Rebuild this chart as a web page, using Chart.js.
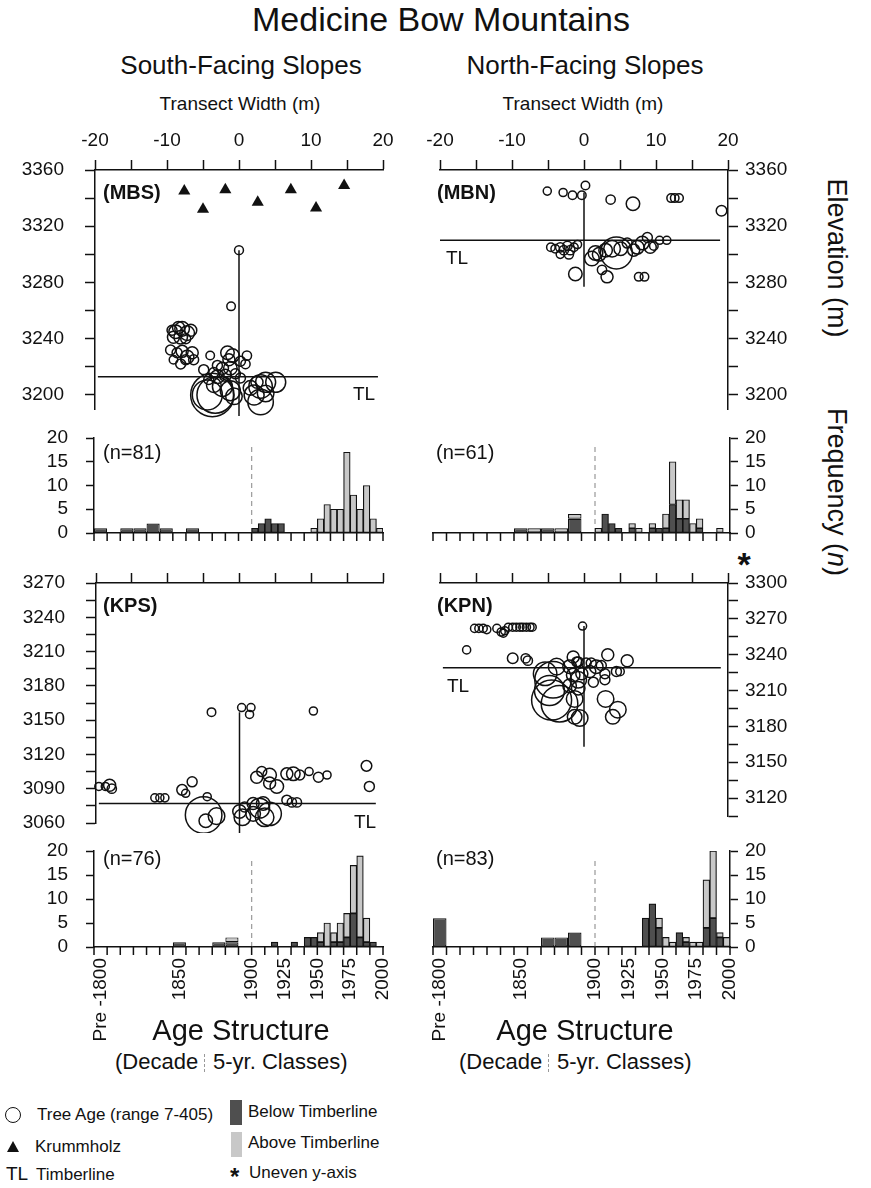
<!DOCTYPE html>
<html>
<head>
<meta charset="utf-8">
<script src="https://cdn.jsdelivr.net/npm/chart.js@4.4.1/dist/chart.umd.min.js"></script>
<style>
  body { margin: 0; background: #fff; }
  #page { position: relative; width: 871px; height: 1188px; overflow: hidden;
          font-family: "Liberation Sans", Arial, sans-serif; color: #111; }
  canvas { position: absolute; }
  .c { position: absolute; white-space: nowrap; transform: translate(-50%, -50%); }
  .l { position: absolute; white-space: nowrap; transform: translateY(-50%); }
  .tag { font-weight: bold; font-size: 20px; }
  .tl { font-size: 19px; }
  .n { font-size: 20px; }
  .leg { font-size: 17px; }
</style>
</head>
<body>
<div id="page">
  <div class="c" style="left:441px;top:19px;font-size:34px">Medicine Bow Mountains</div>
  <div class="c" style="left:241px;top:65px;font-size:26px">South-Facing Slopes</div>
  <div class="c" style="left:585px;top:65px;font-size:26px">North-Facing Slopes</div>
  <div class="c" style="left:240px;top:104px;font-size:19px">Transect Width (m)</div>
  <div class="c" style="left:583px;top:104px;font-size:19px">Transect Width (m)</div>
  <div class="c" style="left:836px;top:258px;font-size:27px;transform:translate(-50%,-50%) rotate(90deg)">Elevation (m)</div>
  <div class="c" style="left:836px;top:492px;font-size:27px;transform:translate(-50%,-50%) rotate(90deg)">Frequency (<i>n</i>)</div>
  <div class="c" style="left:744px;top:564px;font-size:34px;font-weight:bold">*</div>

  <canvas id="mbs"></canvas>
  <canvas id="mbn"></canvas>
  <canvas id="kps"></canvas>
  <canvas id="kpn"></canvas>
  <canvas id="mbsAge"></canvas>
  <canvas id="mbnAge"></canvas>
  <canvas id="kpsAge"></canvas>
  <canvas id="kpnAge"></canvas>

  <div class="l tag" style="left:103px;top:192px">(MBS)</div>
  <div class="l tag" style="left:437px;top:192px">(MBN)</div>
  <div class="l tag" style="left:103px;top:605px">(KPS)</div>
  <div class="l tag" style="left:437px;top:605px">(KPN)</div>
  <div class="c tl" style="left:364px;top:394px">TL</div>
  <div class="c tl" style="left:457px;top:258px">TL</div>
  <div class="c tl" style="left:365px;top:822px">TL</div>
  <div class="c tl" style="left:458px;top:686px">TL</div>
  <div class="l n" style="left:103px;top:452px">(n=81)</div>
  <div class="l n" style="left:436px;top:452px">(n=61)</div>
  <div class="l n" style="left:103px;top:858px">(n=76)</div>
  <div class="l n" style="left:436px;top:858px">(n=83)</div>

  <div class="c" style="left:241px;top:1030px;font-size:29px">Age Structure</div>
  <div class="c" style="left:585px;top:1030px;font-size:29px">Age Structure</div>
  <div class="l" style="left:115px;top:1062px;font-size:22px">(Decade</div>
  <div style="position:absolute;left:204px;top:1054px;height:18px;border-left:1px dashed #999"></div>
  <div class="l" style="left:213px;top:1062px;font-size:22px">5-yr. Classes)</div>
  <div class="l" style="left:459px;top:1062px;font-size:22px">(Decade</div>
  <div style="position:absolute;left:548px;top:1054px;height:18px;border-left:1px dashed #999"></div>
  <div class="l" style="left:557px;top:1062px;font-size:22px">5-yr. Classes)</div>

  <div style="position:absolute;left:5px;top:1107px;width:14px;height:14px;border:1.6px solid #111;border-radius:50%"></div>
  <div class="l leg" style="left:37px;top:1115px">Tree Age (range 7-405)</div>
  <div style="position:absolute;left:7px;top:1141px;width:0;height:0;border-left:6px solid transparent;border-right:6px solid transparent;border-bottom:11px solid #111"></div>
  <div class="l leg" style="left:35px;top:1147px">Krummholz</div>
  <div class="l" style="left:6px;top:1174px;font-size:19px">TL</div>
  <div class="l leg" style="left:36px;top:1175px">Timberline</div>
  <div style="position:absolute;left:230px;top:1100px;width:12px;height:25px;background:#4f4f4f"></div>
  <div class="l leg" style="left:248px;top:1112px">Below Timberline</div>
  <div style="position:absolute;left:231px;top:1132px;width:11px;height:25px;background:#c8c8c8"></div>
  <div class="l leg" style="left:248px;top:1143px">Above Timberline</div>
  <div class="l" style="left:230px;top:1177px;font-size:24px;font-weight:bold">*</div>
  <div class="l leg" style="left:249px;top:1173px">Uneven y-axis</div>
</div>

<script>
// ---- transect axes ----
const widthTicks = [-20, -15, -10, -5, 0, 5, 10, 15, 20];
const widthLabels = [-20, -10, 0, 10, 20];
const mbElevTicks = [3200, 3220, 3240, 3260, 3280, 3300, 3320, 3340, 3360];
const mbElevLabels = [3200, 3240, 3280, 3320, 3360];
const kpsElevTicks = [3060, 3075, 3090, 3105, 3120, 3135, 3150, 3165, 3180, 3195, 3210, 3225, 3240, 3255, 3270];
const kpsElevLabels = [3060, 3090, 3120, 3150, 3180, 3210, 3240, 3270];
const kpnElevTicks = [3105, 3120, 3135, 3150, 3165, 3180, 3195, 3210, 3225, 3240, 3255, 3270, 3285, 3300];
const kpnElevLabels = [3120, 3150, 3180, 3210, 3240, 3270, 3300];

// ---- trees: [transect position (m), elevation (m), age (yr)] ----
const mbsTrees = [
  [-8.8, 3245, 25], [-7.9, 3247, 30], [-7.2, 3244, 30], [-9.1, 3241, 19], [-8.1, 3241, 25],
  [-6.7, 3246, 19], [-8.4, 3248, 19], [-9.3, 3246, 12], [-7.4, 3240, 12],
  [-9.5, 3232, 12], [-8.6, 3230, 12], [-7.9, 3231, 19], [-7.2, 3227, 25], [-6.5, 3230, 19],
  [-8.1, 3222, 12], [-9.1, 3225, 8], [-7.4, 3225, 12], [-6.3, 3225, 12], [-4.9, 3218, 12],
  [-4.0, 3228, 8], [-1.6, 3230, 25], [-0.9, 3228, 25], [-1.4, 3225, 19], [1.1, 3228, 10],
  [0.2, 3224, 12], [0.9, 3222, 10], [-3.0, 3221, 12], [-2.3, 3219, 19], [-3.5, 3216, 12],
  [-1.2, 3219, 25], [-1.9, 3214, 19], [-0.5, 3215, 12], [-3.0, 3213, 25], [0.2, 3212, 12],
  [-4.2, 3211, 12],
  [-4.4, 3200, 148], [-3.3, 3200, 226], [-3.7, 3200, 324], [-1.2, 3203, 61], [-2.3, 3206, 61],
  [-0.7, 3199, 40], [-3.5, 3207, 30],
  [3.0, 3206, 87], [3.7, 3209, 61], [5.1, 3209, 61], [2.1, 3200, 61], [3.0, 3195, 104],
  [1.6, 3205, 30], [3.7, 3201, 40], [2.5, 3209, 19],
  [0, 3303, 9], [-1.1, 3263, 8]
];
const mbsKrummholz = [[-7.6, 3345], [-5.0, 3332], [-1.9, 3346], [2.6, 3337], [7.2, 3346], [10.7, 3333], [14.6, 3349]];
const mbnTrees = [
  [-5.1, 3345, 7], [-2.9, 3344, 7], [-1.6, 3342, 8], [-0.3, 3342, 8], [0.2, 3349, 8],
  [3.7, 3339, 10], [6.8, 3336, 25], [12.1, 3340, 8], [12.6, 3340, 8], [13.2, 3340, 8], [19.1, 3331, 14],
  [-4.6, 3305, 8], [-4.0, 3304, 8], [-3.3, 3305, 10], [-2.8, 3303, 10], [-2.3, 3306, 10],
  [-1.9, 3303, 10], [-1.4, 3305, 8], [-2.1, 3300, 10], [-3.3, 3300, 7], [-0.9, 3307, 7],
  [1.6, 3301, 30], [1.1, 3297, 30], [2.1, 3300, 25], [4.5, 3301, 170], [3.9, 3304, 40],
  [5.1, 3304, 25], [3.0, 3303, 25], [-1.2, 3286, 25], [2.5, 3289, 10], [3.2, 3284, 19],
  [7.6, 3284, 8], [8.4, 3284, 8], [7.4, 3305, 25], [8.1, 3308, 25], [9.2, 3305, 19],
  [8.8, 3312, 12], [9.7, 3306, 8], [10.5, 3310, 7], [11.5, 3310, 7], [6.9, 3303, 19], [6.0, 3308, 12]
];
const kpsTrees = [
  [-3.9, 3157, 8], [0.3, 3161, 7], [1.6, 3161, 7], [1.4, 3155, 7], [10.3, 3158, 7],
  [17.7, 3110, 14], [18.1, 3092, 12],
  [-19.6, 3092, 7], [-18.7, 3092, 7], [-18.1, 3093, 19], [-17.8, 3090, 10],
  [-11.8, 3082, 7], [-11.1, 3082, 7], [-10.4, 3082, 7], [-8.0, 3089, 14], [-7.5, 3086, 7],
  [-6.6, 3096, 12], [-4.5, 3083, 7],
  [-5.0, 3067, 226], [-4.7, 3062, 25], [-3.2, 3066, 40],
  [0, 3070, 25], [0.4, 3065, 40], [0.7, 3074, 12], [2.8, 3073, 61], [4.2, 3068, 87],
  [3.3, 3077, 25], [1.9, 3077, 19], [1.9, 3068, 30], [3.5, 3065, 52],
  [2.4, 3100, 19], [3.1, 3105, 12], [4.2, 3102, 25], [4.2, 3095, 19], [5.2, 3092, 25],
  [6.6, 3103, 19], [7.5, 3103, 25], [8.4, 3102, 12], [9.7, 3105, 7], [11.0, 3100, 12],
  [12.2, 3102, 7], [6.6, 3080, 12], [7.3, 3078, 10], [8.0, 3078, 10]
];
const kpnTrees = [
  [-0.2, 3264, 7],
  [-15.2, 3262, 7], [-14.6, 3262, 7], [-14.0, 3262, 7], [-13.5, 3261, 7], [-12.1, 3262, 7],
  [-11.5, 3259, 7], [-11.0, 3260, 7], [-11.2, 3258, 7], [-10.5, 3263, 7], [-9.9, 3263, 7],
  [-9.4, 3263, 7], [-8.9, 3263, 7], [-8.5, 3263, 7], [-8.0, 3263, 7], [-7.5, 3263, 7], [-7.2, 3263, 7],
  [-16.3, 3244, 7], [-9.9, 3237, 14], [-8.1, 3237, 10], [-7.8, 3235, 10],
  [-4.3, 3219, 226], [-4.5, 3202, 273], [-3.4, 3199, 226], [-4.8, 3210, 148], [-5.4, 3224, 87],
  [-3.8, 3230, 40], [-1.5, 3238, 19], [-1.0, 3234, 12], [-0.8, 3234, 12], [-2.0, 3230, 25],
  [-1.5, 3223, 25], [-0.8, 3219, 40], [-0.3, 3224, 19], [-2.0, 3214, 25], [-0.8, 3212, 25],
  [-1.3, 3203, 40], [-0.6, 3187, 40], [-1.3, 3188, 30],
  [1.0, 3233, 12], [1.7, 3230, 25], [2.4, 3231, 12], [3.3, 3240, 19], [2.9, 3224, 12],
  [1.3, 3217, 12], [2.9, 3219, 12], [4.5, 3226, 12], [5.0, 3226, 8], [6.0, 3235, 19],
  [3.0, 3203, 40], [4.7, 3194, 40], [4.0, 3188, 30], [0.8, 3226, 19], [0.3, 3233, 12]
];

// ---- timberline and centre stem (m) ----
const mbsTimberline = 3213, mbsTlSpan = [-19.6, 19.3], mbsStem = [3303, 3185];
const mbnTimberline = 3310, mbnTlSpan = [-20, 18.9], mbnStem = [3344, 3277];
const kpsTimberline = 3077, kpsTlSpan = [-19.6, 19.0], kpsStem = [3157, 3047];
const kpnTimberline = 3229, kpnTlSpan = [-19.6, 19.0], kpnStem = [3264, 3163];

// ---- age structure: Pre-1800 + decades to 1890, then 5-yr classes 1900-1995 ----
const ageClasses = ['Pre-1800', '1800', '1810', '1820', '1830', '1840', '1850', '1860', '1870', '1880', '1890',
  '1900', '1905', '1910', '1915', '1920', '1925', '1930', '1935', '1940', '1945',
  '1950', '1955', '1960', '1965', '1970', '1975', '1980', '1985', '1990', '1995'];
const ageTickLabels = ['Pre -1800', '1850', '1900', '1925', '1950', '1975', '2000'];
const freqTicks = [0, 5, 10, 15, 20];

const mbsBelow = [1, 0, 1, 1, 2, 1, 0, 1, 0, 0, 0,
  1, 2, 3, 2, 2, 0, 0, 0, 0, 0, 0, 0, 0, 0, 0, 0, 0, 0, 0, 0];
const mbsAbove = [0, 0, 0, 0, 0, 0, 0, 0, 0, 0, 0,
  0, 0, 0, 0, 0, 0, 0, 0, 0, 1, 3, 6, 5, 5, 17, 8, 5, 10, 3, 1];
const mbnBelow = [0, 0, 0, 0, 0, 0, 1, 0, 1, 0, 3,
  0, 4, 2, 1, 0, 1, 0, 0, 1, 1, 1, 6, 3, 3, 0, 1, 0, 0, 0, 0];
const mbnAbove = [0, 0, 0, 0, 0, 0, 0, 1, 0, 1, 1,
  1, 0, 0, 0, 0, 1, 1, 0, 1, 0, 3, 9, 4, 4, 2, 2, 0, 0, 1, 0];
const kpsBelow = [0, 0, 0, 0, 0, 0, 1, 0, 0, 1, 1,
  0, 0, 0, 1, 0, 0, 1, 0, 2, 2, 1, 0, 1, 1, 2, 7, 2, 1, 1, 0];
const kpsAbove = [0, 0, 0, 0, 0, 0, 0, 0, 0, 0, 1,
  0, 0, 0, 0, 0, 0, 0, 0, 0, 0, 2, 5, 2, 4, 5, 10, 17, 5, 0, 0];
const kpnBelow = [6, 0, 0, 0, 0, 0, 0, 0, 2, 2, 3,
  0, 0, 0, 0, 0, 0, 0, 6, 9, 4, 0, 0, 3, 1, 0, 0, 4, 6, 2, 0];
const kpnAbove = [0, 0, 0, 0, 0, 0, 0, 0, 0, 0, 0,
  0, 0, 0, 0, 0, 0, 0, 0, 0, 2, 2, 1, 0, 1, 1, 1, 10, 14, 1, 2];

const ink = '#111';
const darkBar = '#4f4f4f';
const lightBar = '#c8c8c8';
Chart.defaults.font.family = '"Liberation Sans", Arial, sans-serif';
Chart.defaults.font.size = 19;
Chart.defaults.color = ink;

// class index -> position on the age axis (a decade is one unit, 1900 sits at 12)
const DECADES = 11;
const AGE_UNITS = 22;
function classPos(i) {
  return i < DECADES ? i + 0.5 : 12.25 + (i - DECADES) * 0.5;
}
function labelPos(label) {
  if (label.startsWith('Pre')) return classPos(0);
  const year = Number(label);
  return year < 1900 ? classPos(ageClasses.indexOf(String(year))) : 12 + (year - 1900) / 10;
}

// tick marks under the age axis, one per decade width
const ageTickMarks = {
  id: 'ageTickMarks',
  afterDraw(chart) {
    const ctx = chart.ctx;
    const x = chart.scales.x;
    const base = Math.round(chart.chartArea.bottom) - 1;
    ctx.save();
    ctx.fillStyle = ink;
    for (let u = 0; u <= AGE_UNITS; u++) {
      ctx.fillRect(x.getPixelForValue(u) - 0.75, base, 1.5, 9);
    }
    ctx.restore();
  }
};

function place(id, box) {
  const el = document.getElementById(id);
  el.width = box.w; el.height = box.h;
  el.style.left = box.x + 'px'; el.style.top = box.y + 'px';
  return el;
}

function setTicks(values) {
  return axis => { axis.ticks = values.map(v => ({ value: v })); };
}

// fixed axis thickness, and no extra room for labels hanging past the ends
function fixSize(key, size) {
  return s => {
    s[key] = size;
    s.paddingTop = 0; s.paddingBottom = 0; s.paddingLeft = 0; s.paddingRight = 0;
  };
}

function frame(tickLength) {
  return {
    grid: { drawOnChartArea: false, drawTicks: tickLength > 0, tickLength, tickWidth: 1.5, tickColor: ink, offset: false },
    border: { display: true, color: ink, width: 1.5 }
  };
}

function drawTransect(id, box, site) {
  const datasets = [
    { type: 'line', data: site.tlSpan.map(x => ({ x, y: site.timberline })),
      borderColor: ink, borderWidth: 1.5, pointRadius: 0, clip: false },
    { type: 'line', data: site.stem.map(y => ({ x: 0, y })),
      borderColor: ink, borderWidth: 1.5, pointRadius: 0, clip: false },
    { type: 'bubble', data: site.trees.map(([x, y, age]) => ({ x, y, r: 1 + 1.15 * Math.sqrt(age) })),
      borderColor: ink, backgroundColor: 'rgba(0,0,0,0)', borderWidth: 1.5, hoverRadius: 0, clip: false }
  ];
  if (site.krummholz) {
    datasets.push({ type: 'scatter', data: site.krummholz.map(([x, y]) => ({ x, y })),
      pointStyle: 'triangle', pointRadius: 7, backgroundColor: ink, borderColor: ink, borderWidth: 0 });
  }
  new Chart(place(id, box), {
    type: 'bubble',
    data: { datasets },
    options: {
      responsive: false, animation: false, events: [], devicePixelRatio: 1,
      layout: { padding: box.pad, autoPadding: false },
      plugins: { legend: { display: false }, tooltip: { enabled: false } },
      scales: {
        x: {
          type: 'linear', position: 'top', min: -20, max: 20, ...frame(10),
          afterBuildTicks: setTicks(widthTicks),
          afterFit: fixSize('height', 50),
          ticks: { padding: 8, maxRotation: 0, autoSkip: false,
                   callback: v => site.widthLabels && widthLabels.includes(v) ? String(v) : '' }
        },
        y: {
          type: 'linear', position: box.side, min: site.yMin, max: site.yMax, ...frame(10),
          afterBuildTicks: setTicks(site.yTicks),
          afterFit: fixSize('width', box.yWidth),
          ticks: { padding: box.side === 'left' ? 21 : 7, autoSkip: false,
                   callback: v => site.yLabels.includes(v) ? String(v) : '' }
        }
      }
    }
  });
}

function drawAges(id, box, below, above, labelled) {
  const pick = (arr, decades) => arr
    .map((v, i) => ({ x: classPos(i), y: v, dec: i < DECADES }))
    .filter(p => p.dec === decades)
    .map(({ x, y }) => ({ x, y }));
  const bar = (data, color, wide) => ({
    type: 'bar', data, backgroundColor: color, borderColor: ink, borderWidth: 1.2,
    borderSkipped: false, categoryPercentage: 1, barPercentage: wide ? 2 : 1
  });
  const labelAt = {};
  if (labelled) ageTickLabels.forEach(l => { labelAt[labelPos(l)] = l; });
  const labelVals = Object.keys(labelAt).map(Number).sort((a, b) => a - b);

  new Chart(place(id, box), {
    type: 'bar',
    data: {
      datasets: [
        bar(pick(below, true), darkBar, true),
        bar(pick(above, true), lightBar, true),
        bar(pick(below, false), darkBar, false),
        bar(pick(above, false), lightBar, false),
        { type: 'line', stack: 'marker', data: [{ x: 12, y: 0 }, { x: 12, y: 18.5 }],
          borderColor: '#a0a0a0', borderWidth: 1.3, borderDash: [5, 4], pointRadius: 0 }
      ]
    },
    plugins: [ageTickMarks],
    options: {
      responsive: false, animation: false, events: [], devicePixelRatio: 1,
      layout: { padding: box.pad, autoPadding: false },
      plugins: { legend: { display: false }, tooltip: { enabled: false } },
      scales: {
        x: {
          type: 'linear', min: 0, max: AGE_UNITS, offset: false, stacked: true, ...frame(0),
          afterBuildTicks: setTicks(labelVals),
          afterFit: fixSize('height', box.xHeight),
          ticks: { display: labelled, autoSkip: false, minRotation: 90, maxRotation: 90, padding: 11,
                   callback: v => labelAt[v] || '' }
        },
        y: {
          position: box.side, min: 0, max: 20, stacked: true, ...frame(8),
          afterBuildTicks: setTicks(freqTicks),
          afterFit: fixSize('width', box.yWidth),
          ticks: { autoSkip: false, padding: box.side === 'left' ? 18 : 7 }
        }
      }
    }
  });
}

drawTransect('mbs', { x: 0, y: 120, w: 410, h: 300, pad: { right: 27, bottom: 11 }, side: 'left', yWidth: 95 },
  { trees: mbsTrees, krummholz: mbsKrummholz, timberline: mbsTimberline, tlSpan: mbsTlSpan, stem: mbsStem,
    yMin: 3190, yMax: 3360, yTicks: mbElevTicks, yLabels: mbElevLabels, widthLabels: true });
drawTransect('mbn', { x: 420, y: 120, w: 420, h: 300, pad: { left: 20, bottom: 11 }, side: 'right', yWidth: 112 },
  { trees: mbnTrees, timberline: mbnTimberline, tlSpan: mbnTlSpan, stem: mbnStem,
    yMin: 3190, yMax: 3360, yTicks: mbElevTicks, yLabels: mbElevLabels, widthLabels: true });
drawTransect('kps', { x: 0, y: 533, w: 410, h: 300, pad: { right: 27, bottom: 10 }, side: 'left', yWidth: 96 },
  { trees: kpsTrees, timberline: kpsTimberline, tlSpan: kpsTlSpan, stem: kpsStem,
    yMin: 3060, yMax: 3270, yTicks: kpsElevTicks, yLabels: kpsElevLabels, widthLabels: false });
drawTransect('kpn', { x: 420, y: 533, w: 420, h: 300, pad: { left: 20, bottom: 17 }, side: 'right', yWidth: 112 },
  { trees: kpnTrees, timberline: kpnTimberline, tlSpan: kpnTlSpan, stem: kpnStem,
    yMin: 3105, yMax: 3300, yTicks: kpnElevTicks, yLabels: kpnElevLabels, widthLabels: false });

drawAges('mbsAge', { x: 0, y: 425, w: 410, h: 118, pad: { top: 13, right: 27 }, side: 'left', yWidth: 94, xHeight: 10 },
  mbsBelow, mbsAbove, false);
drawAges('mbnAge', { x: 420, y: 425, w: 420, h: 118, pad: { top: 13, left: 13 }, side: 'right', yWidth: 110, xHeight: 10 },
  mbnBelow, mbnAbove, false);
drawAges('kpsAge', { x: 0, y: 838, w: 410, h: 210, pad: { top: 13, right: 27 }, side: 'left', yWidth: 94, xHeight: 101 },
  kpsBelow, kpsAbove, true);
drawAges('kpnAge', { x: 420, y: 838, w: 420, h: 210, pad: { top: 13, left: 13 }, side: 'right', yWidth: 110, xHeight: 101 },
  kpnBelow, kpnAbove, true);
</script>
</body>
</html>
